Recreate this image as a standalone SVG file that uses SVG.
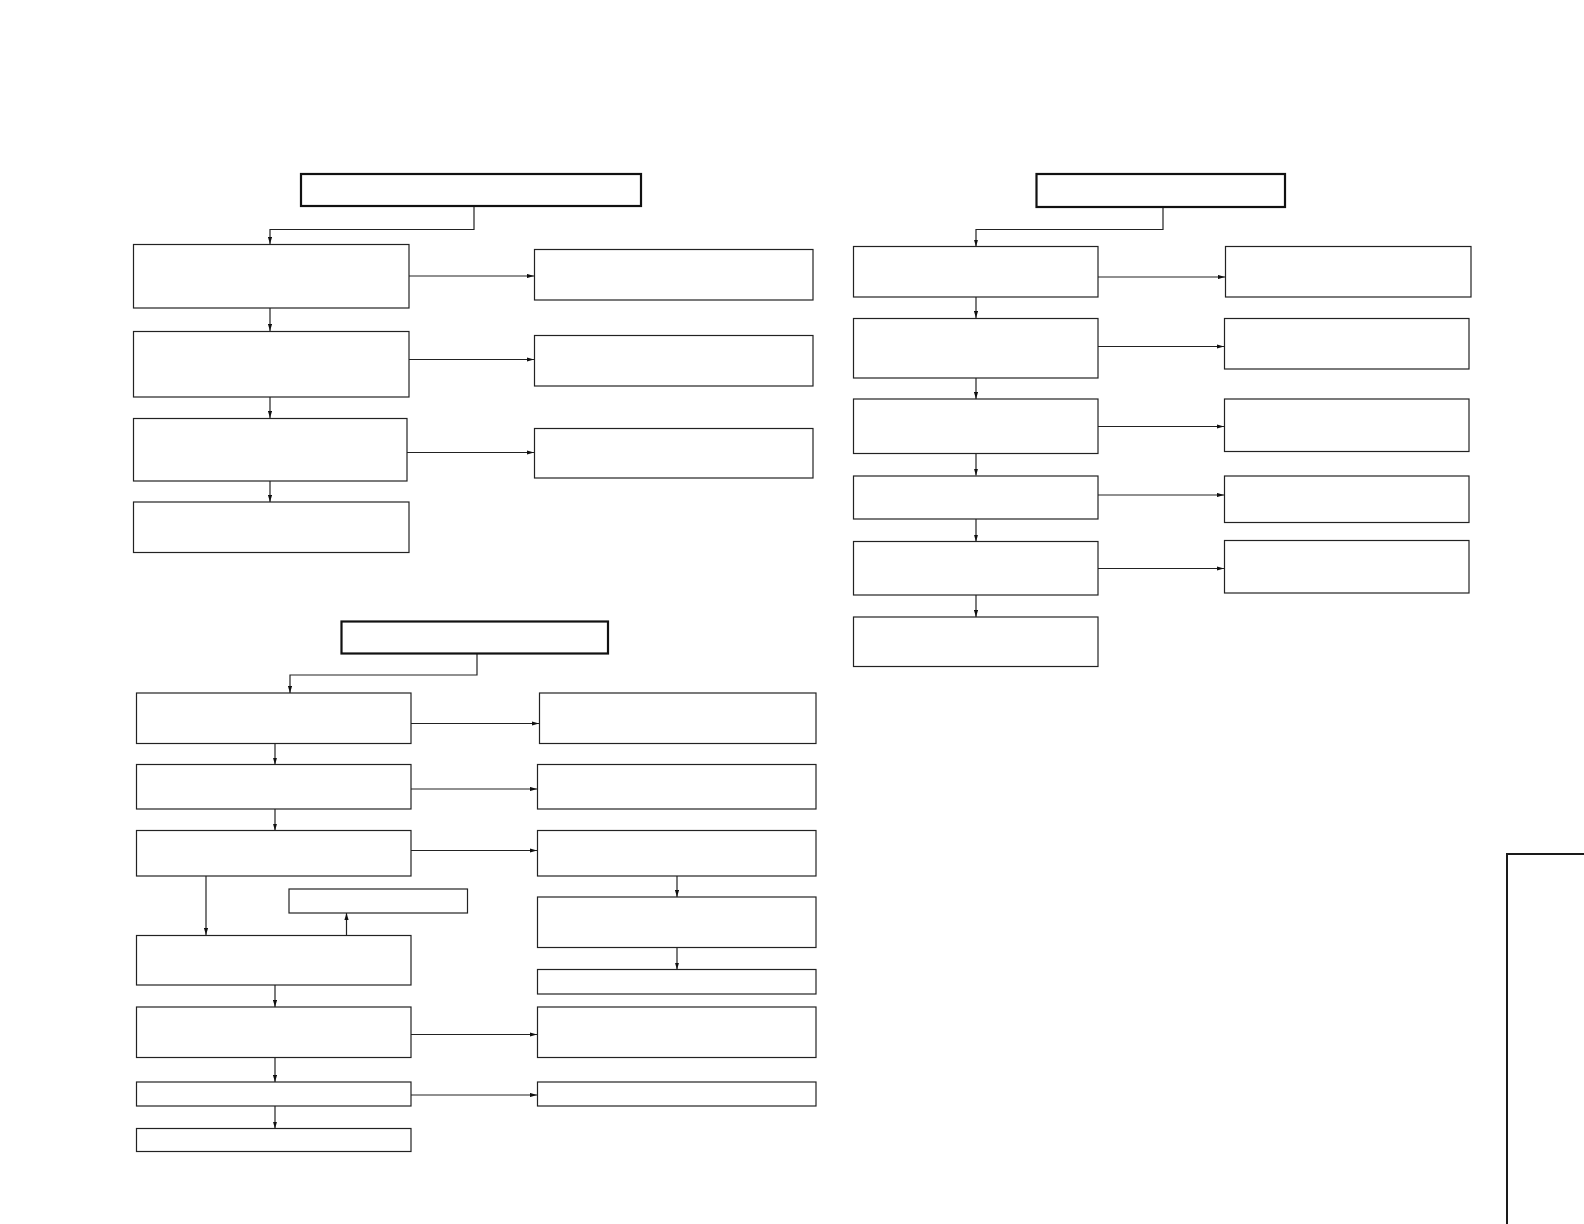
<svg xmlns="http://www.w3.org/2000/svg" width="1584" height="1224" viewBox="0 0 1584 1224">
<style>
.n{fill:#fff;stroke:#222;stroke-width:1.2}
.t{fill:#fff;stroke:#111;stroke-width:2.2}
.c{fill:none;stroke:#222;stroke-width:1.2;marker-end:url(#ah)}
.f{fill:none;stroke:#1a1a1a;stroke-width:2}
</style>
<defs>
<marker id="ah" viewBox="0 0 10 6" refX="10" refY="3" markerWidth="7" markerHeight="4.5" markerUnits="userSpaceOnUse" orient="auto">
<path d="M0,0 L10,3 L0,6 z" fill="#111"/>
</marker>
</defs>
<rect width="1584" height="1224" fill="#fff"/>
<g id="connectors">
<path class="c" d="M474,206 V229.5 H270 V244"/>
<path class="c" d="M409,276 H534"/>
<path class="c" d="M270,308 V331"/>
<path class="c" d="M409,359.5 H534"/>
<path class="c" d="M270,397 V418"/>
<path class="c" d="M407,452.5 H534"/>
<path class="c" d="M270,481 V502"/>
<path class="c" d="M1163,207 V229.5 H976 V246.5"/>
<path class="c" d="M1098,277 H1225"/>
<path class="c" d="M976,297 V318"/>
<path class="c" d="M1098,346.5 H1224"/>
<path class="c" d="M976,378 V399"/>
<path class="c" d="M1098,426.5 H1224"/>
<path class="c" d="M976,453.5 V475.5"/>
<path class="c" d="M1098,495 H1224"/>
<path class="c" d="M976,519 V541.5"/>
<path class="c" d="M1098,568.5 H1224"/>
<path class="c" d="M976,595 V617"/>
<path class="c" d="M477,653.5 V675 H290 V693"/>
<path class="c" d="M411,723.5 H539"/>
<path class="c" d="M275,743.5 V764.5"/>
<path class="c" d="M411,789 H537"/>
<path class="c" d="M275,809 V830.5"/>
<path class="c" d="M411,850.5 H537"/>
<path class="c" d="M206,876 V935"/>
<path class="c" d="M346.5,935 V913"/>
<path class="c" d="M677,876 V897"/>
<path class="c" d="M677,947.5 V969.5"/>
<path class="c" d="M275,985 V1007"/>
<path class="c" d="M411,1034.5 H537"/>
<path class="c" d="M275,1057.5 V1082"/>
<path class="c" d="M411,1095 H537"/>
<path class="c" d="M275,1106 V1128.5"/>
</g>
<g id="title-a"><rect class="t" x="301" y="174" width="340" height="32"/></g>
<g id="a1"><rect class="n" x="133.5" y="244.5" width="275.5" height="63.5"/></g>
<g id="a2"><rect class="n" x="133.5" y="331.5" width="275.5" height="65.5"/></g>
<g id="a3"><rect class="n" x="133.5" y="418.5" width="273.5" height="62.5"/></g>
<g id="a4"><rect class="n" x="133.5" y="502" width="275.5" height="50.5"/></g>
<g id="ra1"><rect class="n" x="534.5" y="249.5" width="278.5" height="50.5"/></g>
<g id="ra2"><rect class="n" x="534.5" y="335.5" width="278.5" height="50.5"/></g>
<g id="ra3"><rect class="n" x="534.5" y="428.5" width="278.5" height="49.5"/></g>
<g id="title-b"><rect class="t" x="1036.5" y="174" width="248.5" height="33"/></g>
<g id="b1"><rect class="n" x="853.5" y="246.5" width="244.5" height="50.5"/></g>
<g id="b2"><rect class="n" x="853.5" y="318.5" width="244.5" height="59.5"/></g>
<g id="b3"><rect class="n" x="853.5" y="399" width="244.5" height="54.5"/></g>
<g id="b4"><rect class="n" x="853.5" y="476" width="244.5" height="43"/></g>
<g id="b5"><rect class="n" x="853.5" y="541.5" width="244.5" height="53.5"/></g>
<g id="b6"><rect class="n" x="853.5" y="617" width="244.5" height="49.5"/></g>
<g id="rb1"><rect class="n" x="1225.5" y="246.5" width="245.5" height="50.5"/></g>
<g id="rb2"><rect class="n" x="1224.5" y="318.5" width="244.5" height="50.5"/></g>
<g id="rb3"><rect class="n" x="1224.5" y="399" width="244.5" height="52.5"/></g>
<g id="rb4"><rect class="n" x="1224.5" y="476" width="244.5" height="46.5"/></g>
<g id="rb5"><rect class="n" x="1224.5" y="540.5" width="244.5" height="52.5"/></g>
<g id="title-c"><rect class="t" x="341.5" y="621.5" width="266.5" height="32"/></g>
<g id="c1"><rect class="n" x="136.5" y="693" width="274.5" height="50.5"/></g>
<g id="c2"><rect class="n" x="136.5" y="764.5" width="274.5" height="44.5"/></g>
<g id="c3"><rect class="n" x="136.5" y="830.5" width="274.5" height="45.5"/></g>
<g id="c4"><rect class="n" x="136.5" y="935.5" width="274.5" height="49.5"/></g>
<g id="c5"><rect class="n" x="136.5" y="1007" width="274.5" height="50.5"/></g>
<g id="c6"><rect class="n" x="136.5" y="1082" width="274.5" height="24"/></g>
<g id="c7"><rect class="n" x="136.5" y="1128.5" width="274.5" height="23"/></g>
<g id="s1"><rect class="n" x="289" y="889" width="178.5" height="24"/></g>
<g id="rc1"><rect class="n" x="539.5" y="693" width="276.5" height="50.5"/></g>
<g id="rc2"><rect class="n" x="537.5" y="764.5" width="278.5" height="44.5"/></g>
<g id="rc3"><rect class="n" x="537.5" y="830.5" width="278.5" height="45.5"/></g>
<g id="rc4"><rect class="n" x="537.5" y="897" width="278.5" height="50.5"/></g>
<g id="rc5"><rect class="n" x="537.5" y="969.5" width="278.5" height="24.5"/></g>
<g id="rc6"><rect class="n" x="537.5" y="1007" width="278.5" height="50.5"/></g>
<g id="rc7"><rect class="n" x="537.5" y="1082" width="278.5" height="24"/></g>
<g id="frame"><path class="f" d="M1507,1224 V854 H1584"/></g>
</svg>
